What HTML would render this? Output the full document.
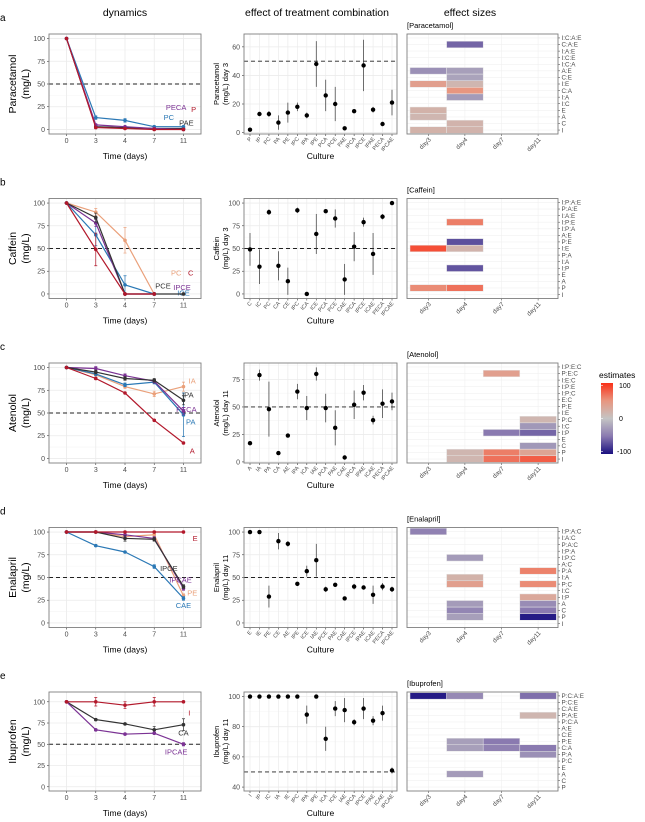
<!DOCTYPE html>
<html><head><meta charset="utf-8">
<style>
html,body{margin:0;padding:0;background:#fff;}
svg{display:block;font-family:"Liberation Sans",Arial,sans-serif;}
</style></head>
<body>
<svg id="fig" width="645" height="822" viewBox="0 0 645 822" xmlns="http://www.w3.org/2000/svg"></svg>
<script>
// ---------- shared ----------
const timeLabels = ["0","3","4","7","11"];
const heatDays = ["day3","day4","day7","day11"];
const panelLetters = ["a","b","c","d","e"];
const drugNames = ["Paracetamol","Caffein","Atenolol","Enalapril","Ibuprofen"];
const midTitles = ["(mg/L) day 3","(mg/L) day 3","(mg/L) day 11","(mg/L) day 11","(mg/L) day 11"];

// ---------- a: Paracetamol ----------
const aSeries = ["PAE","PC","PECA","P"];
const aColors = ["#333333","#2a78b5","#7b3294","#b2182b"];
const aVals = [[100,3,2,1,1],[100,13,10,3,3],[100,5,3,1,0],[100,2,1,0,0]];
const aErr = [[0,1,1,1,1],[0,2,2,1,1],[0,1,1,1,1],[0,1,1,1,1]];
const aLabX = [4.1,3.5,3.75,4.35];
const aLabY = [7,13,24,22];
const aCats = ["P","IP","PC","PA","PE","IPC","IPA","IPE","PCA","PCE","PAE","IPCA","IPCE","IPAE","PECA","IPCAE"];
const aMid = [2,13,13,7,14,18,12,48,26,20,3,15,47,16,6,21];
const aMidErr = [1,1,2,5,7,3,2,16,11,12,1,1,18,2,1,9];
const aMidTicks = [0,20,40,60];
const aRows = ["I","C","A","E","I:C","I:A","C:A","I:E","C:E","A:E","I:C:A","I:C:E","I:A:E","C:A:E","I:C:A:E"];
const aCellDay = [0,0,0,0,0,1,1,1,1,1,1,1,1];
const aCellRow = ["A:E","I:E","E","A","I","C:A:E","A:E","C:E","I:E","C:A","I:A","C","I"];
const aCellVal = [-35,40,20,15,20,-60,-25,-22,15,50,-28,18,18];

// ---------- b: Caffein ----------
const bSeries = ["PC","ICE","IPCE","PCE","C"];
const bColors = ["#eaa07a","#2a78b5","#7b3294","#333333","#b2182b"];
const bVals = [[100,90,59,0,null],[100,65,10,0,null],[100,78,0,0,null],[100,84,0,0,0],[100,49,0,0,null]];
const bErr = [[0,4,14,0,0],[0,12,10,0,0],[0,4,0,0,0],[0,5,0,0,0],[0,18,0,0,0]];
const bLabX = [3.75,4.0,3.95,3.3,4.25];
const bLabY = [23,1,7,9,23];
const bCats = ["C","IC","PC","CA","CE","IPC","ICA","ICE","PCA","PCE","CAE","IPCA","IPCE","ICAE","PECA","IPCAE"];
const bMid = [49,30,90,31,14,92,0,66,91,83,16,52,79,44,85,100];
const bMidErr = [18,19,3,16,15,3,1,22,2,10,17,16,5,23,3,2];
const bMidTicks = [0,25,50,75,100];
const bRows = ["I","P","A","E","I:P","I:A","P:A","I:E","P:E","A:E","I:P:A","I:P:E","I:A:E","P:A:E","I:P:A:E"];
const bCellDay = [0,0,1,1,1,1,1];
const bCellRow = ["I:E","P","I:P:E","P:E","I:E","I:P","P"];
const bCellVal = [85,55,62,-70,18,-68,68];

// ---------- c: Atenolol ----------
const cSeries = ["IA","PA","PECA","IPA","A"];
const cColors = ["#eaa07a","#2a78b5","#7b3294","#333333","#b2182b"];
const cVals = [[100,92,79,71,79],[100,93,81,84,48],[100,99,91,85,52],[100,95,88,86,64],[100,88,72,42,17]];
const cErr = [[0,1,2,3,5],[0,2,2,2,24],[0,2,2,2,4],[0,2,2,2,5],[0,1,1,1,1]];
const cLabX = [4.3,4.25,4.1,4.15,4.3];
const cLabY = [85,40,54,70,8];
const cCats = ["A","IA","PA","CA","AE","IPA","ICA","IAE","PCA","PAE","CAE","IPCA","IPAE","ICAE","PECA","IPCAE"];
const cMid = [17,79,48,8,24,64,49,80,49,31,4,52,63,38,53,55];
const cMidErr = [1,5,25,1,1,7,11,6,13,16,1,13,7,4,13,8];
const cMidTicks = [0,25,50,75];
const cRows = ["I","P","C","E","I:P","I:C","P:C","I:E","P:E","E:C","I:P:C","I:P:E","I:E:C","P:E:C","I:P:E:C"];
const cCellDay = [1,1,2,2,2,2,3,3,3,3,3,3];
const cCellRow = ["P","I","P:E:C","I:P","P","I","P:C","I:C","I:P","C","P","I"];
const cCellVal = [15,15,40,-50,62,68,15,-30,-60,-30,35,78];

// ---------- d: Enalapril ----------
const dSeries = ["PE","CAE","IPCAE","IPCE","E"];
const dColors = ["#eaa07a","#2a78b5","#7b3294","#333333","#b2182b"];
const dVals = [[100,100,95,97,30],[100,85,78,62,27],[100,100,97,93,38],[100,100,93,92,40],[100,100,100,100,100]];
const dErr = [[0,1,2,2,2],[0,1,1,2,2],[0,1,2,2,2],[0,1,3,2,2],[0,1,1,1,1]];
const dLabX = [4.3,4.0,3.9,3.5,4.4];
const dLabY = [33,19,47,60,93];
const dCats = ["E","IE","PE","CE","AE","IPE","ICE","IAE","PCE","PAE","CAE","IPCE","IPAE","ICAE","PECA","IPCAE"];
const dMid = [100,100,29,90,87,43,57,69,37,42,27,40,39,31,40,37];
const dMidErr = [0,0,12,9,3,2,6,18,3,2,1,3,1,10,4,3];
const dMidTicks = [0,25,50,75,100];
const dRows = ["I","P","C","A","I:P","I:C","P:C","I:A","P:A","A:C","I:P:C","I:P:A","P:A:C","I:A:C","I:P:A:C"];
const dCellDay = [0,1,1,1,1,1,1,3,3,3,3,3,3];
const dCellRow = ["I:P:A:C","I:P:C","I:A","P:C","A","C","P","P:A","P:C","I:P","A","C","P"];
const dCellVal = [-45,-28,20,40,-28,-42,-25,60,55,30,-38,-50,-95];

// ---------- e: Ibuprofen ----------
const eSeries = ["CA","IPCAE","I"];
const eColors = ["#333333","#7b3294","#b2182b"];
const eVals = [[100,79,74,67,73],[100,67,62,63,50],[100,100,96,100,100]];
const eErr = [[0,1,1,4,7],[0,1,1,1,2],[0,5,4,5,1]];
const eLabX = [4.0,3.75,4.2];
const eLabY = [63,41,87];
const eCats = ["I","IP","IC","IA","IE","IPC","IPA","IPE","ICA","ICE","IAE","IPCA","IPCE","IPAE","ICAE","IPCAE"];
const eMid = [100,100,100,100,100,100,88,100,72,92,91,83,92,84,89,51];
const eMidErr = [0,0,0,0,0,0,6,1,8,5,8,2,7,3,5,2];
const eMidTicks = [40,60,80,100];
const eRows = ["P","C","A","E","P:C","P:A","C:A","P:E","C:E","A:E","P:C:A","P:A:E","C:A:E","P:C:E","P:C:A:E"];
const eCellDay = [0,1,1,1,1,2,2,3,3,3,3];
const eCellRow = ["P:C:A:E","P:C:A:E","P:E","C:A","A","P:E","C:A","P:C:A:E","P:A:E","C:A","P:A"];
const eCellVal = [-95,-40,-25,-25,-28,-50,-45,-55,15,-50,-35];

// ---------- rendering ----------
const NS = "http://www.w3.org/2000/svg";
const svg = document.getElementById("fig");
function mk(tag, attrs, parent){
  const el = document.createElementNS(NS, tag);
  for (const k in attrs) el.setAttribute(k, attrs[k]);
  (parent||svg).appendChild(el);
  return el;
}
function txt(str, attrs, parent){
  const t = mk("text", attrs, parent);
  t.textContent = str;
  return t;
}
const stops = [[-100,[26,16,128]],[-50,[138,122,176]],[0,[196,196,196]],[50,[232,150,128]],[100,[250,48,24]]];
function heatColor(v){
  for (let i=0;i<stops.length-1;i++){
    const a=stops[i], b=stops[i+1];
    if (v<=b[0]){
      const t=(v-a[0])/(b[0]-a[0]);
      const c=a[1].map((x,j)=>Math.round(x+(b[1][j]-x)*t));
      return "rgb("+c.join(",")+")";
    }
  }
  return "rgb(250,48,24)";
}

const LX0=49, LX1=201, MX0=244, MX1=397, HX0=407, HX1=558;
const tops = [34,198.5,363,527.5,692];
const PH = 100;
const leftRanges = [[-5,105],[-5,105],[-5,105],[-5,105],[-5,111.5]];
const midRanges = [[-1,69],[-5,105],[-1,90],[-5,105],[37.4,103]];

const panels = [
  {series:aSeries,colors:aColors,vals:aVals,err:aErr,labX:aLabX,labY:aLabY,cats:aCats,mid:aMid,midErr:aMidErr,midTicks:aMidTicks,rows:aRows,cellDay:aCellDay,cellRow:aCellRow,cellVal:aCellVal},
  {series:bSeries,colors:bColors,vals:bVals,err:bErr,labX:bLabX,labY:bLabY,cats:bCats,mid:bMid,midErr:bMidErr,midTicks:bMidTicks,rows:bRows,cellDay:bCellDay,cellRow:bCellRow,cellVal:bCellVal},
  {series:cSeries,colors:cColors,vals:cVals,err:cErr,labX:cLabX,labY:cLabY,cats:cCats,mid:cMid,midErr:cMidErr,midTicks:cMidTicks,rows:cRows,cellDay:cCellDay,cellRow:cCellRow,cellVal:cCellVal},
  {series:dSeries,colors:dColors,vals:dVals,err:dErr,labX:dLabX,labY:dLabY,cats:dCats,mid:dMid,midErr:dMidErr,midTicks:dMidTicks,rows:dRows,cellDay:dCellDay,cellRow:dCellRow,cellVal:dCellVal},
  {series:eSeries,colors:eColors,vals:eVals,err:eErr,labX:eLabX,labY:eLabY,cats:eCats,mid:eMid,midErr:eMidErr,midTicks:eMidTicks,rows:eRows,cellDay:eCellDay,cellRow:eCellRow,cellVal:eCellVal}
];

// column headers
const h1 = txt("dynamics",{x:125,y:16,"font-size":10.5,"text-anchor":"middle",fill:"#000"});


const h2 = txt("effect of treatment combination",{x:317,y:16,"font-size":10.5,"text-anchor":"middle",fill:"#000"});


const h3 = txt("effect sizes",{x:470,y:16,"font-size":10.5,"text-anchor":"middle",fill:"#000"});



const tickCol = "#4d4d4d";

panels.forEach((p, pi) => {
  const top = tops[pi], bot = top + (pi===4 ? 99 : PH);
  const drug = drugNames[pi].toLowerCase();
  const g = mk("g",{});
  
  

  const letter = txt(panelLetters[pi],{x:0,y:top-13,"font-size":10,fill:"#000"},g);
  
  

  // ===== left: dynamics =====
  const [ly0, ly1] = leftRanges[pi];
  const lxs = i => LX0 + (i + 0.6) * (LX1 - LX0) / 5.2;
  const lys = v => bot - (v - ly0) / (ly1 - ly0) * (bot - top);
  const lg = mk("g",{},g);
  
  
  [12.5,37.5,62.5,87.5].forEach(v=>{
    const ln = mk("line",{x1:LX0,x2:LX1,y1:lys(v),y2:lys(v),stroke:"#f4f4f4","stroke-width":0.6},lg);
    
    
  });
  [0,25,50,75,100].forEach(v=>{
    const ln = mk("line",{x1:LX0,x2:LX1,y1:lys(v),y2:lys(v),stroke:"#ebebeb","stroke-width":0.8},lg);
    
    
    const tl = txt(String(v),{x:LX0-4,y:lys(v)+2.5,"font-size":7,"text-anchor":"end",fill:tickCol},lg);
    
    
    const tk = mk("line",{x1:LX0-2,x2:LX0,y1:lys(v),y2:lys(v),stroke:"#333","stroke-width":0.6},lg);
    
    
  });
  timeLabels.forEach((t,i)=>{
    const ln = mk("line",{x1:lxs(i),x2:lxs(i),y1:top,y2:bot,stroke:"#ebebeb","stroke-width":0.8},lg);
    
    
    const tl = txt(t,{x:lxs(i),y:bot+9,"font-size":7,"text-anchor":"middle",fill:tickCol},lg);
    
    
    const tk = mk("line",{x1:lxs(i),x2:lxs(i),y1:bot,y2:bot+2,stroke:"#333","stroke-width":0.6},lg);
    
    
  });
  const dl = mk("line",{x1:LX0,x2:LX1,y1:lys(50),y2:lys(50),stroke:"#222","stroke-width":0.9,"stroke-dasharray":"4,3"},lg);
  
  
  p.series.forEach((s,si)=>{
    const col = p.colors[si];
    const sg = mk("g",{},lg);
    
    
    const pts = [];
    p.vals[si].forEach((v,i)=>{ if (v!==null) pts.push([lxs(i), lys(v), i, v]); });
    const pl = mk("polyline",{points:pts.map(q=>q[0].toFixed(1)+","+q[1].toFixed(1)).join(" "),fill:"none",stroke:col,"stroke-width":1.2},sg);
    
    
    pts.forEach(q=>{
      const e = p.err[si][q[2]];
      if (e>0){
        const eb = mk("path",{d:`M${q[0]-1.5},${lys(q[3]+e)}H${q[0]+1.5}M${q[0]},${lys(q[3]+e)}V${lys(q[3]-e)}M${q[0]-1.5},${lys(q[3]-e)}H${q[0]+1.5}`,stroke:col,"stroke-width":0.7,fill:"none"},sg);
        
        
      }
      const c = mk("circle",{cx:q[0],cy:q[1],r:1.8,fill:col},sg);
      
      
    });
    const lt = txt(s,{x:lxs(p.labX[si]),y:lys(p.labY[si])+2.5,"font-size":7.5,"text-anchor":"middle",fill:col},sg);
    
    
  });
  const lb = mk("rect",{x:LX0,y:top,width:LX1-LX0,height:bot-top,fill:"none",stroke:"#7f7f7f","stroke-width":0.9},lg);
  
  
  const yt = txt(drugNames[pi],{x:0,y:0,"font-size":10.5,"text-anchor":"middle",fill:"#000",transform:`translate(16,${(top+bot)/2}) rotate(-90)`},lg);
  
  
  const yt2 = txt("(mg/L)",{x:0,y:0,"font-size":10.5,"text-anchor":"middle",fill:"#000",transform:`translate(29,${(top+bot)/2}) rotate(-90)`},lg);
  
  
  const xt = txt("Time (days)",{x:(LX0+LX1)/2,y:bot+25,"font-size":8.5,"text-anchor":"middle",fill:"#000"},lg);
  
  

  // ===== middle: combination =====
  const [my0,my1] = midRanges[pi];
  const mxs = i => 250 + i * (392 - 250) / (p.cats.length - 1);
  const mys = v => bot - (v - my0) / (my1 - my0) * (bot - top);
  const mg = mk("g",{},g);
  
  
  const step = p.midTicks[1]-p.midTicks[0];
  p.midTicks.forEach(v=>{
    const mv = v + step/2;
    if (mys(mv) > top){
      const mn = mk("line",{x1:MX0,x2:MX1,y1:mys(mv),y2:mys(mv),stroke:"#f4f4f4","stroke-width":0.6},mg);
      
      
    }
  });
  p.midTicks.forEach(v=>{
    const ln = mk("line",{x1:MX0,x2:MX1,y1:mys(v),y2:mys(v),stroke:"#ebebeb","stroke-width":0.8},mg);
    
    
    const tl = txt(String(v),{x:MX0-4,y:mys(v)+2.5,"font-size":7,"text-anchor":"end",fill:tickCol},mg);
    
    
    const tk = mk("line",{x1:MX0-2,x2:MX0,y1:mys(v),y2:mys(v),stroke:"#333","stroke-width":0.6},mg);
    
    
  });
  p.cats.forEach((c,i)=>{
    const ln = mk("line",{x1:mxs(i),x2:mxs(i),y1:top,y2:bot,stroke:"#ebebeb","stroke-width":0.7},mg);
    
    
    const tk = mk("line",{x1:mxs(i),x2:mxs(i),y1:bot,y2:bot+2,stroke:"#333","stroke-width":0.6},mg);
    
    
    const tl = txt(c,{x:0,y:0,"font-size":5.5,"text-anchor":"end",fill:tickCol,transform:`translate(${mxs(i)+2},${bot+5}) rotate(-50)`},mg);
    
    
  });
  const md = mk("line",{x1:MX0,x2:MX1,y1:mys(50),y2:mys(50),stroke:"#222","stroke-width":0.9,"stroke-dasharray":"4,3"},mg);
  
  
  p.mid.forEach((v,i)=>{
    const e = p.midErr[i];
    if (e>0){
      const eb = mk("line",{x1:mxs(i),x2:mxs(i),y1:mys(Math.min(v+e, my1)),y2:mys(Math.max(v-e,my0)),stroke:"#333","stroke-width":0.7},mg);
      
      
    }
    const c = mk("circle",{cx:mxs(i),cy:mys(v),r:2.2,fill:"#000"},mg);
    
    
  });
  const mb = mk("rect",{x:MX0,y:top,width:MX1-MX0,height:bot-top,fill:"none",stroke:"#7f7f7f","stroke-width":0.9},mg);
  
  
  const my = txt(drugNames[pi],{x:0,y:0,"font-size":7.5,"text-anchor":"middle",fill:"#000",transform:`translate(219,${(top+bot)/2}) rotate(-90)`},mg);
  
  
  const my2 = txt(midTitles[pi],{x:0,y:0,"font-size":7.5,"text-anchor":"middle",fill:"#000",transform:`translate(228,${(top+bot)/2}) rotate(-90)`},mg);
  
  
  const mx = txt("Culture",{x:(MX0+MX1)/2,y:bot+25,"font-size":8.5,"text-anchor":"middle",fill:"#000"},mg);
  
  

  // ===== right: heatmap =====
  const colW = 36.6, c0 = 428.3;
  const nR = p.rows.length;
  const rowH = (bot - top) / (nR + 0.2);
  const hx = j => c0 + j * colW;
  const hy = k => bot - (k + 0.6) * rowH;
  const hg = mk("g",{},g);
  
  
  const ht = txt("["+drugNames[pi]+"]",{x:HX0,y:top-6,"font-size":7.5,fill:"#000"},hg);
  
  
  p.rows.forEach((r,k)=>{
    const ln = mk("line",{x1:HX0,x2:HX1,y1:hy(k),y2:hy(k),stroke:"#f0f0f0","stroke-width":0.6},hg);
    
    
    const tk = mk("line",{x1:HX1,x2:HX1+2,y1:hy(k),y2:hy(k),stroke:"#333","stroke-width":0.5},hg);
    
    
    const tl = txt(r,{x:HX1+3.5,y:hy(k)+2.2,"font-size":6.3,fill:tickCol},hg);
    
    
  });
  heatDays.forEach((d,j)=>{
    const ln = mk("line",{x1:hx(j),x2:hx(j),y1:top,y2:bot,stroke:"#f0f0f0","stroke-width":0.6},hg);
    
    
    const tk = mk("line",{x1:hx(j),x2:hx(j),y1:bot,y2:bot+2,stroke:"#333","stroke-width":0.5},hg);
    
    
    const tl = txt(d,{x:0,y:0,"font-size":6.3,"text-anchor":"end",fill:tickCol,transform:`translate(${hx(j)+3},${bot+6}) rotate(-45)`},hg);
    
    
  });
  p.cellVal.forEach((v,n)=>{
    const j = p.cellDay[n], k = p.rows.indexOf(p.cellRow[n]);
    const rc = mk("rect",{x:hx(j)-colW/2,y:hy(k)-rowH/2,width:colW,height:rowH,fill:heatColor(v),stroke:"#e6e6e6","stroke-width":0.5},hg);
    
    
  });
  const hb = mk("rect",{x:HX0,y:top,width:HX1-HX0,height:bot-top,fill:"none",stroke:"#7f7f7f","stroke-width":0.9},hg);
  
  
});

// legend
const lgd = mk("g",{});


const defs = mk("defs",{});
const grad = mk("linearGradient",{id:"lg",x1:0,y1:0,x2:0,y2:1},defs);
stops.slice().reverse().forEach((s,i)=>{
  mk("stop",{offset:(i/4*100)+"%","stop-color":heatColor(s[0])},grad);
});
const lt = txt("estimates",{x:599,y:378,"font-size":8.5,fill:"#000"},lgd);


const bar = mk("rect",{x:601,y:383,width:12,height:71,fill:"url(#lg)"},lgd);


const legendTicks = [100,0,-100];
legendTicks.forEach(v=>{
  const y = 418.5 - v/100*33;
  const tl = txt(String(v),{x:v<0?617:619,y:y+2.5,"font-size":7,fill:"#000"},lgd);
  
  
  const tk = mk("line",{x1:601,x2:603,y1:y,y2:y,stroke:"#fff","stroke-width":0.6},lgd);
  
  
});
</script>
</body></html>
